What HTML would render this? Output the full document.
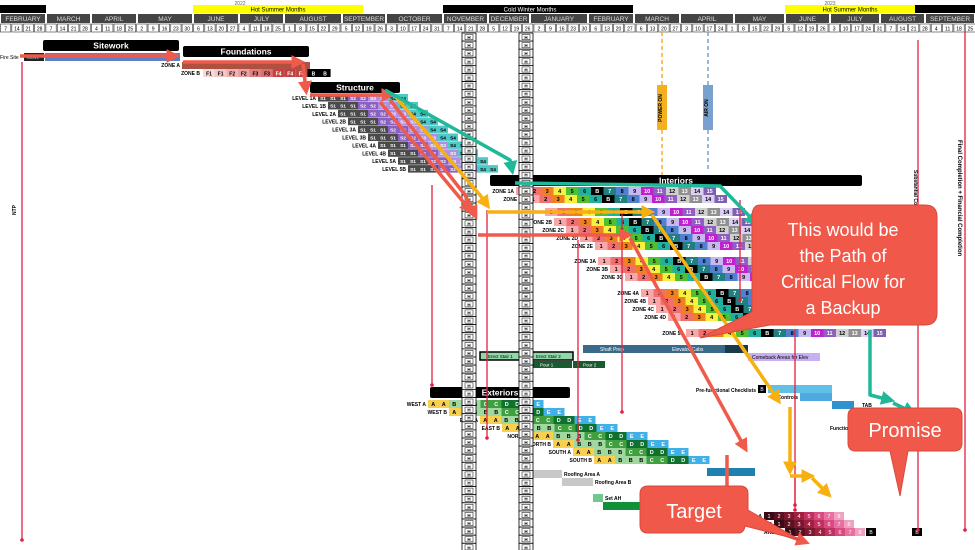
<!DOCTYPE html><html><head><meta charset="utf-8"><style>
body{margin:0;background:#fff;width:975px;height:550px;overflow:hidden}
svg{display:block;font-family:"Liberation Sans",sans-serif}
</style></head><body>
<svg id="s" width="975" height="550" viewBox="0 0 975 550" xmlns="http://www.w3.org/2000/svg"></svg>
<script>
let o='';
const R=(x,y,w,h,f,ex='')=>o+=`<rect x="${x}" y="${y}" width="${w}" height="${h}" fill="${f}" ${ex}/>`;
const T=(x,y,t,sz,f,ex='')=>o+=`<text x="${x}" y="${y}" font-size="${sz}" fill="${f}" ${ex}>${t}</text>`;
const L=(x1,y1,x2,y2,c,w,ex='')=>o+=`<line x1="${x1}" y1="${y1}" x2="${x2}" y2="${y2}" stroke="${c}" stroke-width="${w}" ${ex}/>`;
// header
R(0,0,975,5,'#fff');T(240,5,'2022',5,'#666','text-anchor="middle"');T(830,5,'2023',5,'#666','text-anchor="middle"');
R(0,5,46,8,'#000');R(193,5,170,8,'#ff0');T(278,11.5,'Hot Summer Months',6,'#000','text-anchor="middle"');
R(443,5,190,8,'#000');T(530,11.5,'Cold Winter Months',6,'#fff','text-anchor="middle"');
R(785,5,130,8,'#ff0');T(850,11.5,'Hot Summer Months',6,'#000','text-anchor="middle"');R(915,5,60,8,'#000');
const M=[['FEBRUARY',0,46],['MARCH',46,91],['APRIL',91,137],['MAY',137,193],['JUNE',193,239],['JULY',239,284],['AUGUST',284,342],['SEPTEMBER',342,386],['OCTOBER',386,443],['NOVEMBER',443,488],['DECEMBER',488,530],['JANUARY',530,588],['FEBRUARY',588,634],['MARCH',634,680],['APRIL',680,734],['MAY',734,785],['JUNE',785,830],['JULY',830,880],['AUGUST',880,925],['SEPTEMBER',925,975]];
M.forEach(m=>{R(m[1]+1,14,m[2]-m[1]-2,9,'#444');T((m[1]+m[2])/2,21,m[0],6.5,'#ddd','text-anchor="middle"')});
const days=[7,14,21,28,7,14,21,28,4,11,18,25,2,9,16,23,30,6,13,20,27,4,11,18,25,1,8,15,22,29,5,12,19,26,3,10,17,24,31,7,14,21,28,5,12,19,26,2,9,16,23,30,6,13,20,27,6,13,20,27,3,10,17,24,1,8,15,22,29,5,12,19,26,3,10,17,24,31,7,14,21,28,4,11,18,25];
for(let i=0;i<86;i++){let x=i*11.35;R(x+0.5,24,10.3,8,'#fff','stroke="#333" stroke-width="0.6"');T(x+5.6,30.5,days[i],5,'#000','text-anchor="middle"')}
// dashed verticals
L(662,32,662,175,'#f5b020',1.5,'stroke-dasharray="4,3"');L(708,32,708,170,'#7aa0d0',1.5,'stroke-dasharray="4,3"');
R(657,85,10,45,'#f5b020');T(662,108,'POWER ON',5,'#000','text-anchor="middle" transform="rotate(-90 662 108)" font-weight="bold"');
R(703,85,10,45,'#7aa0d0');T(708,108,'AIR ON',5,'#000','text-anchor="middle" transform="rotate(-90 708 108)" font-weight="bold"');
// black bars
function BB(x,y,w,t){R(x,y,w,11,'#000','rx="2"');T(x+w/2,y+8.5,t,8.5,'#fff','text-anchor="middle" font-weight="bold"')}
BB(43,40,136,'Sitework');BB(183,46,126,'Foundations');BB(310,82,90,'Structure');BB(490,175,372,'Interiors');BB(430,387,140,'Exteriors');
R(45,53,135,8,'#6080c8');R(24,53,20,8,'#222');T(0,59,'Fire Site',5,'#000');T(27,59,'Move',5,'#ccc');
// foundations
T(180,67,'ZONE A',5,'#000','font-weight="bold" text-anchor="end"');R(182,62,128,7,'#b05040');
T(200,75,'ZONE B',5,'#000','font-weight="bold" text-anchor="end"');
['F1','F1','F2','F2','F3','F3','F4','F4','F4','B','B'].forEach((t,i)=>{const c=['#f8d8d8','#f4c8c8','#eeb0b0','#e8a0a0','#e08080','#d87070','#c84040','#c04040','#c04848','#000','#000'][i];R(203+i*11.6,69,11.6,8,c);T(209+i*11.6,75.5,t,5,i>5?'#fff':'#000','text-anchor="middle" font-weight="bold"')});
// structure
const sc={S1:'#4a4a4a',S2:'#8a60c0',S3:'#b090e0',S4:'#50c8c8'};
const lv=['1A','1B','2A','2B','3A','3B','4A','4B','5A','5B'];
lv.forEach((l,r)=>{let y=94+r*7.9,x=318+(r)*10;T(x-2,y+6,'LEVEL '+l,5,'#000','font-weight="bold" text-anchor="end"');
['S1','S1','S1','S2','S2','S3','S3','S4','S4'].forEach((s,i)=>{R(x+i*10,y,10,7.5,sc[s]);T(x+i*10+5,y+5.8,s,4.8,s=='S4'?'#000':'#fff','text-anchor="middle" font-weight="bold"')})});
// interiors
const ic={1:'#f8a8a8',2:'#f07070',3:'#f08020',4:'#f8f040',5:'#50c030',6:'#20b0a0',B:'#000',7:'#208080',8:'#5080d0',9:'#c8b8f0',10:'#c020d0',11:'#9060c0',12:'#d0d0d0',13:'#909090',14:'#dcd0f4',15:'#8060b0'};
const seq=[1,2,3,4,5,6,'B',7,8,9,10,11,12,13,14,15];
const zones=[['1A',191,516],['1B',199,527],['',212,545],['2B',222,554],['2C',230,566],['2D',238,580],['2E',246,595],['3A',261,598],['3B',269,610],['3C',277,625],['4A',293,641],['4B',301,648],['4C',309,656],['4D',317,668],['5A',333,686]];
zones.forEach(z=>{let y=z[1]-4;if(z[0])T(z[2]-2,y+6,'ZONE '+z[0],5,'#000','font-weight="bold" text-anchor="end"');
seq.forEach((s,i)=>{let x=z[2]+i*12.5;if(x>940)return;R(x,y,12.5,8,ic[s]);T(x+6.2,y+6,s,5.5,(s=='B'||s==10||s==11||s==15||s==13||s==7)?'#fff':'#000','text-anchor="middle" font-weight="bold"')})});
// exteriors
const ec={A:'#f8d050',B:'#a0d8a0',C:'#40a040',D:'#107030',E:'#40b0e8'};
[['WEST A',428],['WEST B',449],['EAST A',480],['EAST B',502],['NORTH A',532],['NORTH B',553],['SOUTH A',573],['SOUTH B',594]].forEach((e,r)=>{let y=400+r*8;T(e[1]-2,y+6,e[0],5,'#000','font-weight="bold" text-anchor="end"');
'AABBBCCDDEE'.split('').forEach((c,i)=>{let x=e[1]+i*10.5;R(x,y,10.5,8,ec[c]);T(x+5.2,y+6,c,5.5,c>'B'?'#fff':'#000','text-anchor="middle" font-weight="bold"')})});
// misc bars
R(583,345,165,8,'#3a6a8a');T(600,351,'Shaft Prep',5,'#fff');T(672,351,'Elevator Cabs',5,'#fff');T(742,351,'Certification',5,'#fff');R(725,345,23,8,'#1a3a4a');
R(748,353,72,8,'#c8b0f0');T(752,359,'Comeback Areas for Elev',5,'#000');
R(480,352,50,8,'#90d8a8','stroke="#000" stroke-width="1.5"');T(488,358,'Erect Stair 1',4.5,'#000');
R(532,352,41,8,'#90d8a8','stroke="#000" stroke-width="1.5"');T(536,358,'Erect Stair 2',4.5,'#000');
R(531,361,41,7,'#1a5a30');T(540,366.5,'Pour 1',4.5,'#fff');R(573,361,32,7,'#1a5a30');T(583,366.5,'Pour 2',4.5,'#fff');
T(756,392,'Pre-functional Checklists',5,'#000','text-anchor="end" font-weight="bold"');R(758,385,8,8,'#000');T(762,391,'B',5,'#fff','text-anchor="middle"');R(768,385,64,8,'#60c0e8');
T(798,399,'Controls',5,'#000','text-anchor="end" font-weight="bold"');R(800,393,32,8,'#50a8e0');
T(862,407,'TAB',5,'#000','font-weight="bold"');R(832,401,22,8,'#3090d0');
T(830,430,'Functional',5,'#000','font-weight="bold"');
R(532,470,30,8,'#c8c8c8');T(564,476,'Roofing Area A',5,'#000','font-weight="bold"');R(562,478,31,8,'#c8c8c8');T(595,484,'Roofing Area B',5,'#000','font-weight="bold"');
R(593,494,10,8,'#70c890');T(605,500,'Set AH',5,'#000','font-weight="bold"');R(603,502,40,8,'#10903a');
R(707,468,48,8,'#2080b0');
const ac=['#3a0a14','#5a1020','#7a1830','#a02040','#c03060','#d84a80','#e870a0','#f0a0c0'];
[['A',764,512],['B',774,520],['C',785,528]].forEach(a=>{T(a[1]-2,a[2]+6,'AREA '+a[0],5,'#000','text-anchor="end" font-weight="bold"');ac.forEach((c,i)=>{R(a[1]+i*10,a[2],10,8,c);T(a[1]+i*10+5,a[2]+6,i+1,5.5,'#fff','text-anchor="middle"')})});
R(866,528,10,8,'#000');T(871,534,'B',5,'#fff','text-anchor="middle"');R(912,528,10,8,'#000');T(917,534,'B',5,'#fff','text-anchor="middle"');
// H columns
[462,519].forEach(x=>{for(let y=33;y<550;y+=8.1){R(x,y,14,8.1,'#fff','stroke="#000" stroke-width="0.8"');R(x+3,y+1.5,8,5.2,'#fff','stroke="#000" stroke-width="0.5"');T(x+7,y+6,'H',4.5,'#000','text-anchor="middle" font-weight="bold"')}});
// red thin verticals
[[22,62,540],[918,40,530],[965,32,530],[432,185,385],[487,210,438],[578,240,440],[622,210,412],[740,200,300],[795,330,505],[795,476,510]].forEach(v=>{L(v[0],v[1],v[0],v[2],'#e02040',1.3);o+=`<circle cx="${v[0]}" cy="${v[2]}" r="1.8" fill="#e02040"/>`});
T(16,210,'NTP',5,'#000','transform="rotate(-90 16 210)" font-weight="bold" text-anchor="middle"');
T(914,170,'Substantial Completion',5,'#000','transform="rotate(90 914 170)" font-weight="bold"');
T(958,140,'Final Completion + Financial Completion',6,'#000','transform="rotate(90 958 140)" font-weight="bold"');
// thick arrows
o+=`<defs><marker id="mr" markerWidth="4" markerHeight="4" refX="2.5" refY="2" orient="auto"><path d="M0,0L4,2L0,4z" fill="#f05a4a"/></marker><marker id="mo" markerWidth="4" markerHeight="4" refX="2.5" refY="2" orient="auto"><path d="M0,0L4,2L0,4z" fill="#f8b010"/></marker><marker id="mt" markerWidth="4" markerHeight="4" refX="2.5" refY="2" orient="auto"><path d="M0,0L4,2L0,4z" fill="#20b898"/></marker></defs>`;
const P=(d,c,m)=>o+=`<path d="${d}" fill="none" stroke="${c}" stroke-width="3.5" stroke-linejoin="round" marker-end="url(#${m})"/>`;
const red='#f05a4a',org='#f8b010',tl='#20b898';
P('M20,56L175,56','#f05a4a','mr');P('M183,62L300,62',red,'mr');P('M303,64L306,90',red,'mr');P('M310,95L390,95',red,'mr');
P('M390,100L465,195L475,215',red,'mr');P('M380,102L470,210',red,'mr');P('M478,235L628,235',red,'mr');
P('M630,238L745,448',red,'mr');P('M727,455L727,512L752,518',red,'mr');P('M745,520L805,542',red,'mr');
P('M395,96L480,195L487,205',org,'mo');P('M487,212L650,212',org,'mo');P('M652,215L778,400',org,'mo');P('M790,407L790,470',org,'mo');P('M790,476L810,476',org,'mo');P('M812,478L828,494',org,'mo');
P('M385,90L510,160L512,170',tl,'mt');P('M515,183L720,186L755,222',tl,'mt');P('M870,330L870,395L890,400',tl,'mt');P('M893,403L912,412',tl,'mt');
// callouts
o+=`<path d="M760,205H925Q937,205 937,217V313Q937,325 925,325H770L700,338L752,312V217Q752,205 760,205z" fill="#f0584a" stroke="#d84a3e"/>`;
['This would be','the Path of','Critical Flow for','a Backup'].forEach((t,i)=>T(843,236+i*26,t,18,'#fff','text-anchor="middle"'));
o+=`<path d="M856,408H954Q962,408 962,416V443Q962,451 954,451H908L900,496L890,451H856Q848,451 848,443V416Q848,408 856,408z" fill="#f0584a" stroke="#d84a3e"/>`;
T(905,437,'Promise',20,'#fff','text-anchor="middle"');
o+=`<path d="M648,486H740Q748,486 748,494V510L800,540L745,526Q744,533 738,533H648Q640,533 640,525V494Q640,486 648,486z" fill="#f0584a" stroke="#d84a3e"/>`;
T(694,518,'Target',20,'#fff','text-anchor="middle"');
document.getElementById('s').innerHTML=o;
</script></body></html>
